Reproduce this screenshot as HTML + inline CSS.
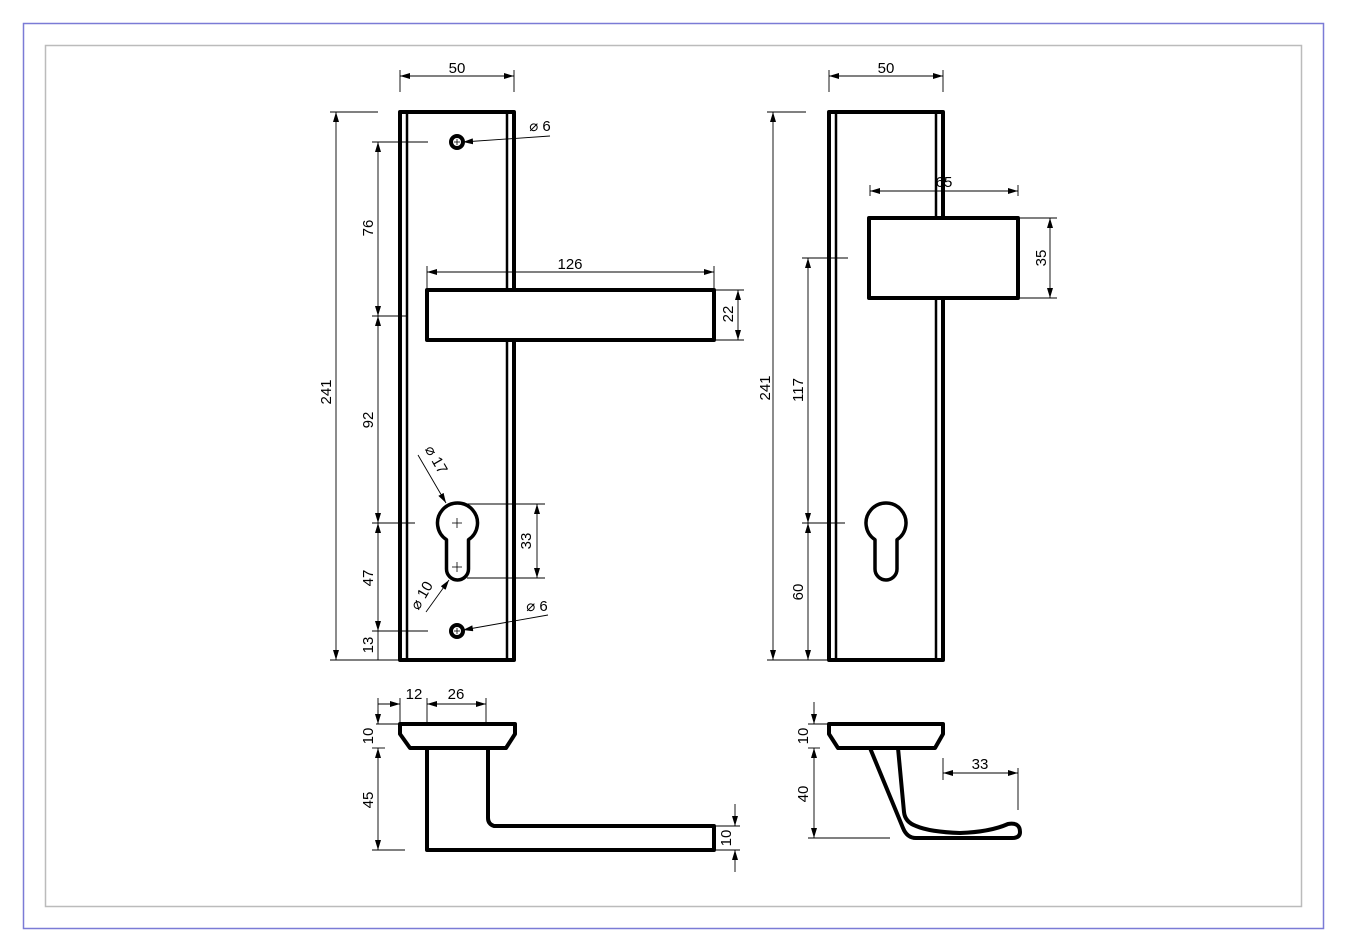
<!DOCTYPE html>
<html><head><meta charset="utf-8"><style>html,body{margin:0;padding:0;background:#fff}svg{display:block}</style></head>
<body>
<svg width="1347" height="952" viewBox="0 0 1347 952" xmlns="http://www.w3.org/2000/svg" font-family="Liberation Sans, sans-serif" font-size="15" fill="none">
<defs>
<marker id="a" viewBox="0 0 10 6" refX="10" refY="3" markerWidth="10" markerHeight="6" orient="auto-start-reverse" markerUnits="userSpaceOnUse"><path d="M0,0 L10,3 L0,6z" fill="#000"/></marker>
</defs>
<rect x="23.5" y="23.5" width="1300" height="905" stroke="#7b7bd6" stroke-width="1.5"/>
<rect x="45.5" y="45.5" width="1256" height="861" stroke="#bbb" stroke-width="1.5"/>

<g stroke="#000" stroke-width="4" stroke-linejoin="round">
<rect x="400" y="112" width="114" height="548"/>
<line x1="407" y1="112" x2="407" y2="660" stroke-width="2.5"/>
<line x1="507" y1="112" x2="507" y2="290" stroke-width="2.5"/>
<line x1="507" y1="340" x2="507" y2="660" stroke-width="2.5"/>
<rect x="427" y="290" width="287" height="50" fill="#fff"/>
<circle cx="457" cy="142" r="6" stroke-width="4"/>
<circle cx="457" cy="631" r="6" stroke-width="4"/>
<path d="M446.5,539.7 A20,20 0 1 1 468.5,539.7 L468.5,569 A11,11 0 0 1 446.5,569 Z" stroke-width="3.5"/>
<rect x="829" y="112" width="114" height="548"/>
<line x1="836" y1="112" x2="836" y2="660" stroke-width="2.5"/>
<line x1="936" y1="112" x2="936" y2="218" stroke-width="2.5"/>
<line x1="936" y1="298" x2="936" y2="660" stroke-width="2.5"/>
<rect x="869" y="218" width="149" height="80" fill="#fff"/>
<path d="M875,539.7 A20,20 0 1 1 897,539.7 L897,569 A11,11 0 0 1 875,569 Z" stroke-width="3.5"/>
<path d="M400,724 L515,724 L515,734 L506,748 L410,748 L400,734 Z"/>
<path d="M427,748 L427,850 L714,850 L714,826 L494,826 Q488,824 488,818 L488,748"/>
<path d="M829,724 L943,724 L943,734 L935,748 L838,748 L829,734 Z"/>
<path d="M870,748 L903,828 Q907,838 916,838 L1012,838 Q1020,838 1020,832 Q1020,822 1008,824 Q990,832 960,833 Q930,832 916,826 Q905,822 904,812 L898,748"/>
</g>
<g stroke="#000" stroke-width="0.8">
<line x1="452" y1="523" x2="462" y2="523"/><line x1="457" y1="518" x2="457" y2="528"/>
<line x1="452" y1="567" x2="462" y2="567"/><line x1="457" y1="562" x2="457" y2="572"/>
<line x1="454" y1="142" x2="460" y2="142"/><line x1="457" y1="139" x2="457" y2="145"/>
<line x1="454" y1="631" x2="460" y2="631"/><line x1="457" y1="628" x2="457" y2="634"/>
</g>

<g stroke="#000" stroke-width="0.9">
<line x1="400" y1="70" x2="400" y2="92"/><line x1="514" y1="70" x2="514" y2="92"/>
<line x1="400" y1="76" x2="514" y2="76" marker-start="url(#a)" marker-end="url(#a)"/>
<line x1="330" y1="112" x2="378" y2="112"/><line x1="330" y1="660" x2="400" y2="660"/>
<line x1="336" y1="112" x2="336" y2="660" marker-start="url(#a)" marker-end="url(#a)"/>
<line x1="372" y1="142" x2="428" y2="142"/><line x1="372" y1="316" x2="406" y2="316"/>
<line x1="372" y1="523" x2="415" y2="523"/><line x1="372" y1="631" x2="428" y2="631"/>
<line x1="378" y1="142" x2="378" y2="316" marker-start="url(#a)" marker-end="url(#a)"/>
<line x1="378" y1="316" x2="378" y2="523" marker-start="url(#a)" marker-end="url(#a)"/>
<line x1="378" y1="523" x2="378" y2="631" marker-start="url(#a)" marker-end="url(#a)"/>
<line x1="378" y1="631" x2="378" y2="660"/>
<line x1="427" y1="266" x2="427" y2="288"/><line x1="714" y1="266" x2="714" y2="288"/>
<line x1="427" y1="272" x2="714" y2="272" marker-start="url(#a)" marker-end="url(#a)"/>
<line x1="716" y1="290" x2="744" y2="290"/><line x1="716" y1="340" x2="744" y2="340"/>
<line x1="738" y1="290" x2="738" y2="340" marker-start="url(#a)" marker-end="url(#a)"/>
<line x1="467" y1="504" x2="545" y2="504"/><line x1="467" y1="578" x2="545" y2="578"/>
<line x1="537" y1="504" x2="537" y2="578" marker-start="url(#a)" marker-end="url(#a)"/>
<line x1="550" y1="136" x2="463" y2="142" marker-end="url(#a)"/>
<line x1="548" y1="615" x2="463" y2="630" marker-end="url(#a)"/>
<line x1="418" y1="455" x2="446" y2="503" marker-end="url(#a)"/>
<line x1="426" y1="612" x2="449" y2="580" marker-end="url(#a)"/>

<line x1="829" y1="70" x2="829" y2="92"/><line x1="943" y1="70" x2="943" y2="92"/>
<line x1="829" y1="76" x2="943" y2="76" marker-start="url(#a)" marker-end="url(#a)"/>
<line x1="767" y1="112" x2="806" y2="112"/><line x1="767" y1="660" x2="829" y2="660"/>
<line x1="773" y1="112" x2="773" y2="660" marker-start="url(#a)" marker-end="url(#a)"/>
<line x1="802" y1="258" x2="848" y2="258"/><line x1="802" y1="523" x2="845" y2="523"/>
<line x1="808" y1="258" x2="808" y2="523" marker-start="url(#a)" marker-end="url(#a)"/>
<line x1="808" y1="523" x2="808" y2="660" marker-start="url(#a)" marker-end="url(#a)"/>
<line x1="870" y1="185" x2="870" y2="196"/><line x1="1018" y1="185" x2="1018" y2="196"/>
<line x1="870" y1="191" x2="1018" y2="191" marker-start="url(#a)" marker-end="url(#a)"/>
<line x1="1020" y1="218" x2="1057" y2="218"/><line x1="1020" y1="298" x2="1057" y2="298"/>
<line x1="1050" y1="218" x2="1050" y2="298" marker-start="url(#a)" marker-end="url(#a)"/>

<line x1="378" y1="698" x2="378" y2="724"/><line x1="400" y1="698" x2="400" y2="722"/>
<line x1="427" y1="698" x2="427" y2="724"/><line x1="486" y1="698" x2="486" y2="724"/>
<line x1="378" y1="704" x2="400" y2="704" marker-end="url(#a)"/>
<line x1="427" y1="704" x2="486" y2="704" marker-start="url(#a)" marker-end="url(#a)"/>
<line x1="376" y1="724" x2="400" y2="724"/><line x1="372" y1="748" x2="385" y2="748"/><line x1="372" y1="850" x2="405" y2="850"/>
<line x1="378" y1="710" x2="378" y2="724" marker-end="url(#a)"/>
<line x1="378" y1="748" x2="378" y2="850" marker-start="url(#a)" marker-end="url(#a)"/>
<line x1="716" y1="826" x2="740" y2="826"/><line x1="716" y1="850" x2="740" y2="850"/>
<line x1="735" y1="804" x2="735" y2="826" marker-end="url(#a)"/>
<line x1="735" y1="872" x2="735" y2="850" marker-end="url(#a)"/>
<line x1="808" y1="724" x2="829" y2="724"/><line x1="808" y1="748" x2="820" y2="748"/><line x1="808" y1="838" x2="890" y2="838"/>
<line x1="814" y1="702" x2="814" y2="724" marker-end="url(#a)"/>
<line x1="814" y1="748" x2="814" y2="838" marker-start="url(#a)" marker-end="url(#a)"/>
<line x1="943" y1="758" x2="943" y2="780"/><line x1="1018" y1="768" x2="1018" y2="810"/>
<line x1="943" y1="773" x2="1018" y2="773" marker-start="url(#a)" marker-end="url(#a)"/>
</g>

<g fill="#000" text-anchor="middle">
<text x="457" y="73">50</text>
<text x="886" y="73">50</text>
<text x="570" y="269">126</text>
<text x="540" y="131">⌀ 6</text>
<text x="537" y="611">⌀ 6</text>
<text x="944" y="187">65</text>
<text x="414" y="699">12</text>
<text x="456" y="699">26</text>
<text x="980" y="769">33</text>
<text transform="translate(331,392) rotate(-90)">241</text>
<text transform="translate(373,228) rotate(-90)">76</text>
<text transform="translate(373,420) rotate(-90)">92</text>
<text transform="translate(373,578) rotate(-90)">47</text>
<text transform="translate(373,645) rotate(-90)">13</text>
<text transform="translate(733,314) rotate(-90)">22</text>
<text transform="translate(531,541) rotate(-90)">33</text>
<text transform="translate(770,388) rotate(-90)">241</text>
<text transform="translate(803,390) rotate(-90)">117</text>
<text transform="translate(803,592) rotate(-90)">60</text>
<text transform="translate(1046,258) rotate(-90)">35</text>
<text transform="translate(373,736) rotate(-90)">10</text>
<text transform="translate(373,800) rotate(-90)">45</text>
<text transform="translate(731,838) rotate(-90)">10</text>
<text transform="translate(808,736) rotate(-90)">10</text>
<text transform="translate(808,794) rotate(-90)">40</text>
<text transform="translate(432,462) rotate(60)">⌀ 17</text>
<text transform="translate(426,598) rotate(-60)">⌀ 10</text>
</g>
</svg>
</body></html>
